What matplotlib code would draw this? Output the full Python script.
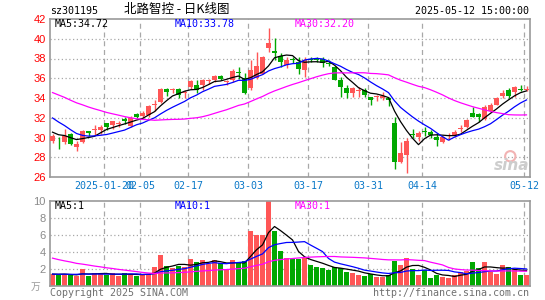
import numpy as np
import pandas as pd
import matplotlib
matplotlib.use("Agg")
import matplotlib.pyplot as plt

# daily candles 2025-01-07 .. 2025-05-12 (80 trading days)
open_ = [29.65, 30.0, 29.5, 30.4, 29.05, 29.5, 30.7, 30.78, 30.8, 31.45,
         31.3, 31.38, 31.85, 31.2, 32.4, 32.2, 32.25, 33.3, 33.6, 34.95,
         34.78, 34.95, 34.55, 35.1, 35.3, 35.3, 35.75, 35.8, 36.25, 35.6,
         35.8, 36.62, 36.0, 35.0, 36.05, 36.45, 39.1, 38.75, 38.3, 37.3,
         37.92, 37.65, 36.8, 37.92, 37.92, 37.9, 37.52, 37.1, 35.85, 35.05,
         34.5, 34.74, 34.8, 34.1, 34.07, 34.0, 34.05, 31.45, 27.55, 28.2,
         30.33, 30.05, 30.62, 30.6, 30.1, 29.5, 30.2, 30.2, 30.9, 31.05,
         32.45, 32.4, 31.9, 32.65, 33.3, 34.25, 34.8, 34.6, 34.92, 34.85]
high = [30.4, 30.1, 30.85, 30.45, 29.65, 30.75, 30.7, 31.3, 31.3, 31.45,
        31.7, 31.7, 32.1, 32.15, 32.5, 32.65, 33.3, 33.75, 35.05, 35.0,
        35.0, 35.05, 34.85, 35.85, 35.85, 35.9, 35.95, 36.3, 36.3, 35.8,
        36.95, 37.1, 36.55, 37.8, 38.7, 38.3, 41.05, 40.05, 38.55, 38.2,
        38.2, 38.15, 38.15, 38.2, 38.2, 38.2, 37.8, 37.25, 36.1, 35.3,
        35.15, 35.15, 35.0, 34.1, 34.3, 34.6, 34.15, 32.1, 29.5, 30.0,
        30.85, 30.7, 31.05, 30.75, 30.5, 30.2, 30.5, 30.75, 31.3, 31.85,
        33.1, 32.45, 33.3, 33.5, 34.15, 34.8, 35.0, 35.25, 35.3, 35.25]
low = [29.4, 28.8, 29.3, 29.25, 28.6, 29.4, 30.15, 30.3, 30.35, 30.75,
       30.9, 31.05, 31.35, 31.1, 31.95, 32.0, 32.1, 32.7, 33.5, 34.2,
       34.55, 33.95, 33.95, 34.95, 34.55, 34.8, 35.45, 35.65, 35.8, 35.3,
       35.65, 35.95, 34.4, 34.85, 35.95, 36.4, 38.7, 37.8, 37.15, 37.0,
       37.5, 36.45, 36.1, 37.65, 37.65, 37.1, 37.2, 35.8, 34.1, 34.0,
       34.15, 34.15, 34.1, 33.3, 33.7, 33.75, 33.2, 26.8, 27.4, 26.4,
       30.0, 29.65, 30.15, 29.9, 29.1, 29.4, 29.75, 30.1, 30.6, 31.0,
       32.05, 31.55, 31.8, 32.6, 33.3, 34.05, 34.0, 34.1, 34.7, 34.7]
close = [30.2, 29.9, 30.2, 29.3, 29.35, 30.7, 30.45, 30.82, 31.05, 31.05,
         31.65, 31.42, 31.7, 32.0, 32.05, 32.45, 33.2, 33.38, 34.95, 34.65,
         34.85, 34.35, 34.62, 35.7, 34.8, 35.85, 35.82, 36.2, 35.95, 35.65,
         36.75, 36.58, 34.5, 36.8, 37.25, 38.15, 39.55, 38.6, 37.65, 37.8,
         37.88, 36.95, 37.8, 37.88, 37.86, 37.55, 37.48, 35.85, 35.1, 34.5,
         35.0, 34.78, 34.35, 33.8, 34.12, 34.2, 33.75, 27.55, 28.45, 29.6,
         30.28, 30.5, 30.57, 30.25, 29.77, 30.1, 30.25, 30.6, 30.95, 31.8,
         32.1, 32.05, 33.05, 33.25, 34.0, 34.55, 34.2, 35.1, 34.85, 34.9]
# volume, in 万
volume = [1.4, 1.3, 1.4, 1.25, 1.2, 2.0, 1.2, 1.5, 1.4, 1.3,
          1.5, 1.2, 1.5, 1.4, 1.2, 1.4, 1.4, 2.2, 3.65, 2.35,
          2.15, 2.35, 2.2, 3.2, 2.8, 3.1, 2.6, 3.1, 2.7, 2.05,
          3.1, 2.8, 2.9, 6.5, 6.0, 6.0, 10.0, 6.5, 4.1, 3.3,
          3.2, 3.2, 3.4, 2.5, 2.2, 2.1, 1.9, 2.2, 2.1, 1.65,
          1.5, 1.3, 1.2, 1.45, 1.05, 1.05, 1.25, 3.0, 2.5, 3.3,
          2.0, 1.3, 1.9, 0.95, 1.3, 1.05, 1.0, 1.3, 1.7, 1.8,
          2.8, 2.1, 2.8, 1.7, 1.4, 2.5, 2.2, 1.95, 1.3, 1.3]
# estimated history before the window (needed for the moving averages)
pre_close = [37.2, 37.5, 37.9, 37.3, 36.8, 37.1, 36.5, 36.2, 36.6, 35.9,
             35.5, 36.0, 35.6, 35.0, 34.6, 34.3, 34.8, 34.0, 33.7, 34.2,
             34.0, 33.8, 33.5, 33.2, 32.6, 31.2, 30.6, 30.4, 30.3]
pre_volume = [6.5, 5.8, 5.2, 6.0, 4.8, 4.5, 5.0, 4.2, 4.6, 4.0,
              4.4, 3.9, 4.1, 3.8, 4.3, 3.6, 3.7, 2.2, 1.9, 1.8,
              1.5, 1.3, 1.4, 1.2, 1.6, 1.4, 1.3, 1.5, 1.4]

tick_idx = [9, 15, 23, 33, 43, 53, 62, 79]
tick_labels = ['2025-01-20', '02-05', '02-17', '03-03', '03-17', '03-31', '04-14', '05-12']

RED = '#ff5656'
GREEN = '#00a800'
GRID = '#a8a8a8'
FRAME = '#9a9a9a'
MONO = 'DejaVu Sans Mono'

n = len(close)
x = np.arange(n)
up = np.array(close) >= np.array(open_)
colors = [RED if u else GREEN for u in up]

c_all = pd.Series(pre_close + close)
v_all = pd.Series(pre_volume + volume)
ma = {k: c_all.rolling(k).mean().values[-n:] for k in (5, 10, 30)}
vma = {k: v_all.rolling(k).mean().values[-n:] for k in (5, 10, 30)}
ma_col = {5: 'black', 10: '#0000ff', 30: '#ff00ff'}

W, H = 545, 300
fig = plt.figure(figsize=(W / 100, H / 100), dpi=100)


def box(l, t, r, b):
    return [l / W, 1 - b / H, (r - l) / W, (b - t) / H]


def txt(px, py, s, **kw):
    fig.text(px / W, 1 - py / H, s, **kw)


ax = fig.add_axes(box(50, 19, 529.5, 177))
axv = fig.add_axes(box(50, 201, 529.5, 286))
xl = (-0.42, 79.5)

for a in (ax, axv):
    a.set_xlim(*xl)
    for s in a.spines.values():
        s.set_color(FRAME)
        s.set_linewidth(1.2)
    a.set_xticks([])
    a.tick_params(length=0)
    for i in tick_idx:
        a.axvline(i - 0.42, color=GRID, lw=0.9, ls=(0, (4, 3)), zorder=0)

# price panel
ax.set_ylim(26, 42)
ax.set_yticks([26, 28, 30, 32, 34, 36, 38, 40, 42])
ax.set_yticklabels(['26', '28', '30', '32', '34', '36', '38', '40', '42'],
                   color='red', fontsize=8, family='Liberation Sans')
ax.tick_params(axis='y', pad=3)
for v in range(28, 42, 2):
    ax.axhline(v, color=GRID, lw=0.9, ls=(0, (1, 2)), zorder=0)

# sina watermark
ax.scatter([76.3], [28.1], s=55, facecolor='none', edgecolor='#f2b3b3', lw=1.5, zorder=1)
ax.text(79.4, 26.45, 'sina', fontsize=11, style='italic', fontweight='bold',
        color='#cdcdcd', ha='right', va='bottom', zorder=1)

body_lo = np.minimum(open_, close)
body_h = np.maximum(np.abs(np.array(close) - np.array(open_)), 0.1)
ax.vlines(x, low, high, colors=colors, lw=1, zorder=2)
ax.bar(x, body_h, bottom=body_lo, width=0.83, color=colors, zorder=3, linewidth=0)
for k in (5, 10, 30):
    ax.plot(x, ma[k], color=ma_col[k], lw=0.9, zorder=4)

# volume panel
axv.set_ylim(0, 10)
axv.set_yticks([2, 4, 6, 8, 10])
axv.set_yticklabels(['2', '4', '6', '8', '10'], color='#8a8a8a', fontsize=8,
                    family='Liberation Sans')
axv.tick_params(axis='y', pad=3)
for v in (2, 4, 6, 8):
    axv.axhline(v, color=GRID, lw=0.9, ls=(0, (1, 2)), zorder=0)
axv.bar(x, volume, width=0.83, color=colors, zorder=2, linewidth=0)
for k in (5, 10, 30):
    axv.plot(x, vma[k], color=ma_col[k], lw=0.9, zorder=4)

# date labels
for i, lab in zip(tick_idx, tick_labels):
    txt(50 + 6 * i, 186, lab, ha='center', va='center', fontsize=7.2,
        family=MONO, color='#0a78c8')

# header texts
txt(50, 11, 'sz301195', ha='left', va='center', fontsize=7.2, family=MONO)
txt(177, 10, '北路智控 - 日K线图', ha='center', va='center', fontsize=9,
    family=['Noto Sans CJK SC', 'DejaVu Sans'])
txt(529, 11, '2025-05-12 15:00:00', ha='right', va='center', fontsize=7.2, family=MONO)
txt(55, 24, 'MA5:34.72', ha='left', va='center', fontsize=7.2, family=MONO, color='black')
txt(175, 24, 'MA10:33.78', ha='left', va='center', fontsize=7.2, family=MONO, color='#0000ff')
txt(295, 24, 'MA30:32.20', ha='left', va='center', fontsize=7.2, family=MONO, color='#ff00ff')
txt(55, 206, 'MA5:1', ha='left', va='center', fontsize=7.2, family=MONO, color='black')
txt(175, 206, 'MA10:1', ha='left', va='center', fontsize=7.2, family=MONO, color='#0000ff')
txt(295, 206, 'MA30:1', ha='left', va='center', fontsize=7.2, family=MONO, color='#ff00ff')

txt(36, 287, '万', ha='center', va='center', fontsize=7, color='#9a9a9a',
    family=['Noto Sans CJK SC', 'DejaVu Sans'])
txt(50, 293, 'Copyright 2025 SINA.COM', ha='left', va='center', fontsize=7.2,
    family=MONO, color='#707070')
txt(529, 293, 'http://finance.sina.com.cn', ha='right', va='center', fontsize=7.2,
    family=MONO, color='#707070')

fig.savefig('out.png', dpi=100)
